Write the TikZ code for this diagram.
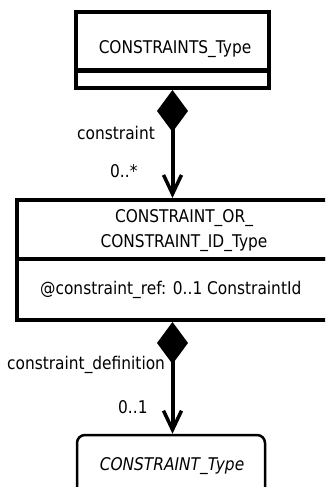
\documentclass[tikz,border=0pt]{standalone}
\usepackage{fontspec}
\setmainfont[FakeStretch=0.88]{DejaVu Sans}
\usetikzlibrary{arrows.meta}
\begin{document}
\begin{tikzpicture}[x=1pt,y=-1pt,
  font=\fontsize{17.5}{20}\selectfont,
  comp/.style={draw, line width=4pt, inner sep=0pt},
  rbox/.style={draw, line width=2.5pt, rounded corners=8pt, inner sep=0pt},
  txt/.style={inner sep=0pt},
  assoc/.style={line width=4pt,
    {Diamond[length=42pt,width=31pt]}-{Straight Barb[length=19pt,width=18pt,line width=3.5pt]}}]
\useasboundingbox (0,0) rectangle (325,487);
\clip (0,0) rectangle (325,487);
% top class
\node[comp, minimum width=193pt, minimum height=58pt] (t1) at (172.5,41.5) {};
\node[comp, minimum width=193pt, minimum height=17.5pt] (t2) at (172.5,79.25) {};
\node[txt, anchor=base] (t1txt) at (175,53) {CONSTRAINTS\_Type};
% middle class
\node[comp, minimum width=334pt, minimum height=59pt] (m1) at (184,229.5) {};
\node[comp, minimum width=334pt, minimum height=61pt] (m2) at (184,289.5) {};
\node[txt, anchor=base] (m1a) at (184,222) {CONSTRAINT\_OR\_};
\node[txt, anchor=base] (m1b) at (184,247) {CONSTRAINT\_ID\_Type};
\node[txt, anchor=base west] (m2a) at (40,294) {@constraint\_ref: 0..1 ConstraintId};
% bottom class
\node[rbox, minimum width=188pt, minimum height=65pt] (b) at (171,467.5) {};
\node[txt, anchor=base] (btxt) at (172,470) {\itshape CONSTRAINT\_Type};
% connectors
\draw[assoc] (t2.south) -- (t2.south |- m1.north);
\draw[assoc] (t2.south |- m2.south) -- (t2.south |- b.north);
% labels
\node[txt, anchor=base east] (l1) at (155,139) {constraint};
\node[txt, anchor=base west] (l2) at (110,177) {0..*};
\node[txt, anchor=base west] (l3) at (7,369) {constraint\_definition};
\node[txt, anchor=base west] (l4) at (118,413) {0..1};
\end{tikzpicture}
\end{document}
